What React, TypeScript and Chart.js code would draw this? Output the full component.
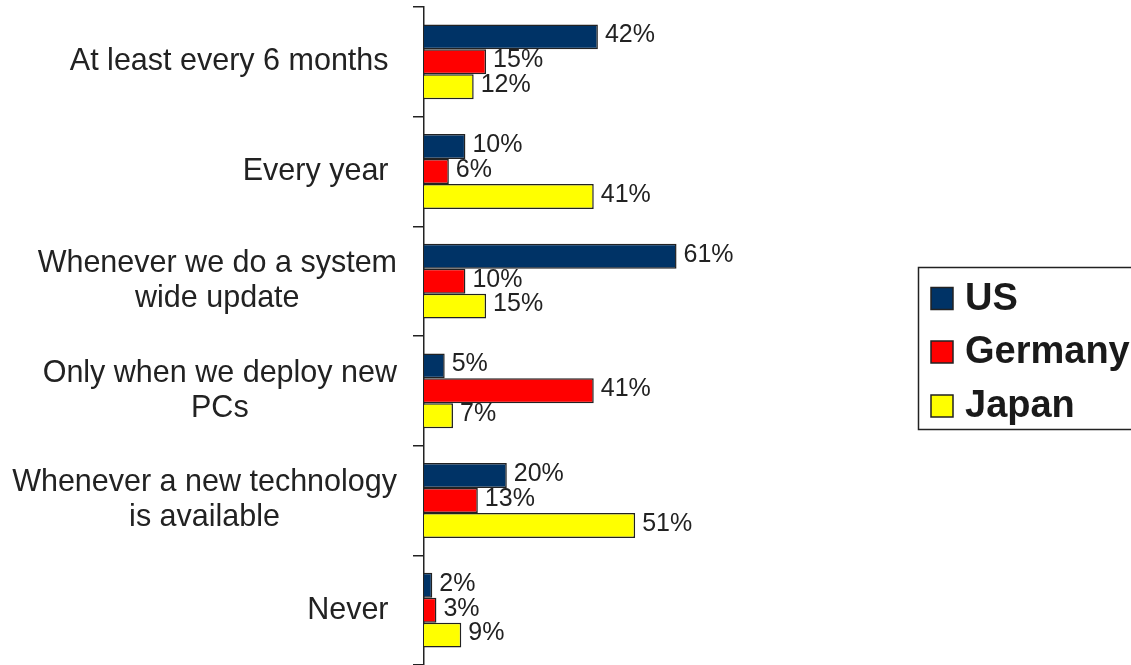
import React, { useEffect, useRef } from "react";
import { Chart, registerables } from "chart.js";

Chart.register(...registerables);

const categories: string[][] = [
  ["At least every 6 months "],
  ["Every year "],
  ["Whenever we do a system", "wide update"],
  ["Only when we deploy new", "PCs"],
  ["Whenever a new technology", "is available"],
  ["Never "],
];

const seriesNames = ["US", "Germany", "Japan"];
const usValues = [42, 10, 61, 5, 20, 2];
const germanyValues = [15, 6, 10, 41, 13, 3];
const japanValues = [12, 41, 15, 7, 51, 9];
const seriesColors = ["#003366", "#FF0000", "#FFFF00"];

const FONT = '"Liberation Sans", Arial, Helvetica, sans-serif';
const TEXT = "#222222";
const EDGE = "#222222";

const catLabelPlugin = {
  id: "catLabels",
  afterDraw(chart: any) {
    const ctx = chart.ctx;
    const y = chart.scales.y;
    ctx.save();
    ctx.font = `30.5px ${FONT}`;
    ctx.fillStyle = TEXT;
    ctx.textBaseline = "middle";
    ctx.textAlign = "center";
    const right = chart.chartArea.left - 27;
    const lh = 35;
    categories.forEach((lines, i) => {
      const cy = y.getPixelForValue(i);
      const w = Math.max(...lines.map((l) => ctx.measureText(l).width));
      const cx = right - w / 2;
      lines.forEach((l, j) => {
        ctx.fillText(l, cx, cy + (j - (lines.length - 1) / 2) * lh);
      });
    });
    ctx.restore();
  },
};

const valueLabelPlugin = {
  id: "valueLabels",
  afterDatasetsDraw(chart: any) {
    const ctx = chart.ctx;
    ctx.save();
    ctx.font = `25px ${FONT}`;
    ctx.fillStyle = TEXT;
    ctx.textBaseline = "middle";
    ctx.textAlign = "left";
    chart.data.datasets.forEach((ds: any, di: number) => {
      const meta = chart.getDatasetMeta(di);
      meta.data.forEach((bar: any, i: number) => {
        ctx.fillText(`${ds.data[i]}%`, bar.x + 7, bar.y - 1.5);
      });
    });
    ctx.restore();
  },
};

const legendPlugin = {
  id: "boxLegend",
  afterDraw(chart: any) {
    const ctx = chart.ctx;
    ctx.save();
    const left = 918.5;
    const top = 267.5;
    const bottom = 429.5;
    ctx.lineWidth = 1.5;
    ctx.strokeStyle = EDGE;
    ctx.strokeRect(left, top, chart.width + 20 - left, bottom - top);
    ctx.font = `bold 38px ${FONT}`;
    ctx.textBaseline = "middle";
    ctx.textAlign = "left";
    const rows = [298.5, 352, 406];
    chart.data.datasets.forEach((ds: any, i: number) => {
      const cy = rows[i];
      ctx.fillStyle = ds.backgroundColor;
      ctx.fillRect(931, cy - 11, 22, 22);
      ctx.lineWidth = 1.5;
      ctx.strokeStyle = EDGE;
      ctx.strokeRect(931, cy - 11, 22, 22);
      ctx.fillStyle = "#1a1a1a";
      ctx.fillText(ds.label, 965, cy + 1);
    });
    ctx.restore();
  },
};

export default function App() {
  const ref = useRef<HTMLCanvasElement | null>(null);

  useEffect(() => {
    if (!ref.current) return;
    const values = [usValues, germanyValues, japanValues];
    const chart = new Chart(ref.current, {
      type: "bar",
      data: {
        labels: categories,
        datasets: seriesNames.map((name, i) => ({
          label: name,
          data: values[i],
          backgroundColor: seriesColors[i],
          borderColor: EDGE,
          borderWidth: 1.5,
          categoryPercentage: 0.682,
          barPercentage: 1,
        })),
      },
      options: {
        indexAxis: "y",
        animation: false,
        responsive: false,
        layout: { padding: { left: 413, right: 293, top: 7, bottom: -2 } },
        plugins: {
          legend: { display: false },
          tooltip: { enabled: false },
        },
        scales: {
          x: {
            display: false,
            min: 0,
            max: 100,
          },
          y: {
            afterFit: (scale: any) => {
              scale.width = 11;
            },
            grid: {
              drawOnChartArea: false,
              drawTicks: true,
              tickLength: 11,
              color: EDGE,
              lineWidth: 1.5,
            },
            border: { display: true, color: EDGE, width: 1.5 },
            ticks: { display: false },
          },
        },
      },
      plugins: [catLabelPlugin, valueLabelPlugin, legendPlugin],
    });
    return () => chart.destroy();
  }, []);

  return (
    <div style={{ position: "absolute", left: 0, top: 0, width: 1131, height: 665, background: "#fff" }}>
      <canvas ref={ref} width={1131} height={665} style={{ display: "block" }} />
    </div>
  );
}
